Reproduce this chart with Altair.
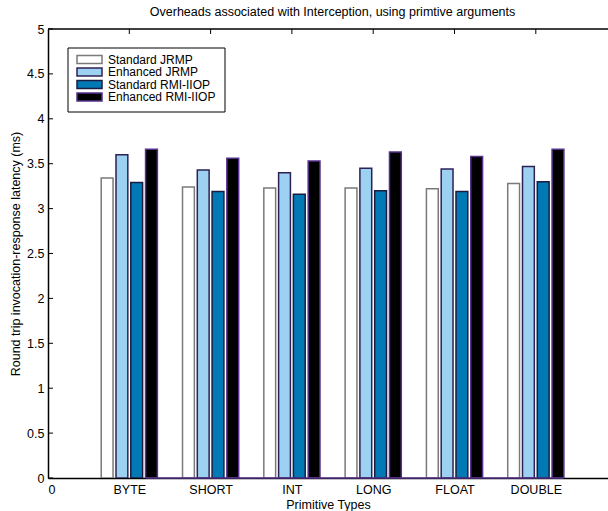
import altair as alt
import pandas as pd

# Round-trip latency (ms) per primitive argument type
categories = ["BYTE", "SHORT", "INT", "LONG", "FLOAT", "DOUBLE"]
series = ["Standard JRMP", "Enhanced JRMP", "Standard RMI-IIOP", "Enhanced RMI-IIOP"]
standard_jrmp = [3.34, 3.24, 3.23, 3.23, 3.22, 3.28]
enhanced_jrmp = [3.60, 3.43, 3.40, 3.45, 3.44, 3.47]
standard_iiop = [3.29, 3.19, 3.16, 3.20, 3.19, 3.30]
enhanced_iiop = [3.66, 3.56, 3.53, 3.63, 3.58, 3.66]
y_ticks = [0, 0.5, 1, 1.5, 2, 2.5, 3, 3.5, 4, 4.5, 5]

fills = ["#ffffff", "#9dd1f1", "#0079b5", "#000000"]
edges = ["#7a7a7a", "#2e2156", "#1c1c40", "#55308c"]

FONT = "Liberation Sans"
FS = 12.5
W, H = 560, 449
X_MAX = 6.888          # visible part of the 0..7 category axis
PX = W / X_MAX         # pixels per x unit

# grouped bar geometry (MATLAB-style grouping)
slot = 0.1818
bar_w = 0.8 * slot
offsets = [-1.5 * slot, -0.5 * slot, 0.5 * slot, 1.5 * slot]

values = [standard_jrmp, enhanced_jrmp, standard_iiop, enhanced_iiop]
rows = []
for s, name in enumerate(series):
    for c, cat in enumerate(categories):
        center = (c + 1) + offsets[s]
        rows.append({"series": name, "category": cat, "order": s,
                     "x0": center - bar_w / 2, "x1": center + bar_w / 2,
                     "value": values[s][c]})
df = pd.DataFrame(rows)

xs = alt.Scale(domain=[0, X_MAX], nice=False, zero=False)
ys = alt.Scale(domain=[0, 5], nice=False)

label_expr = ("datum.value == 0 ? '0' : " +
              "[" + ",".join("'%s'" % c for c in categories) + "][datum.value - 1]")

bars = alt.Chart(df).mark_bar(strokeWidth=1.5, clip=True).encode(
    x=alt.X("x0:Q", scale=xs,
            axis=alt.Axis(values=list(range(0, 7)), labelExpr=label_expr,
                          ticks=False, grid=False, domainColor="black",
                          domainWidth=1.5, labelFont=FONT, labelFontSize=FS,
                          labelColor="black", labelPadding=5,
                          title="Primitive Types", titleFont=FONT,
                          titleFontSize=FS, titleFontWeight="normal",
                          titleColor="black", titlePadding=3)),
    x2="x1:Q",
    y=alt.Y("value:Q", scale=ys,
            axis=alt.Axis(values=y_ticks, format="~g", ticks=False, grid=False,
                          domainColor="black", domainWidth=1.5,
                          labelFont=FONT, labelFontSize=FS, labelColor="black",
                          labelPadding=4,
                          title="Round trip invocation-response latency (ms)",
                          titleFont=FONT, titleFontSize=FS,
                          titleFontWeight="normal", titleColor="black",
                          titlePadding=4)),
    y2=alt.datum(0),
    fill=alt.Fill("series:N", scale=alt.Scale(domain=series, range=fills), legend=None),
    stroke=alt.Stroke("series:N", scale=alt.Scale(domain=series, range=edges), legend=None),
)

# baseline of the last series, spanning its first to last bar
last = df[df["order"] == 3]
base_df = pd.DataFrame({"x0": [last["x0"].min()], "x1": [last["x1"].max()]})
baseline = alt.Chart(base_df).mark_rule(color="#55308c", strokeWidth=1.5).encode(
    x=alt.X("x0:Q", scale=xs), x2="x1:Q", y=alt.datum(0)
)

# inward tick marks on the left and top edges
ytick_df = pd.DataFrame({"v": y_ticks})
yticks = alt.Chart(ytick_df).mark_rule(color="black", strokeWidth=1).encode(
    y=alt.Y("v:Q", scale=ys), x=alt.value(0), x2=alt.value(5)
)
xtick_df = pd.DataFrame({"v": list(range(1, 7))})
xticks = alt.Chart(xtick_df).mark_rule(color="black", strokeWidth=1).encode(
    x=alt.X("v:Q", scale=xs), y=alt.value(0), y2=alt.value(5)
)

one = pd.DataFrame({"k": [0]})  # single row for decorations
top_line = alt.Chart(one).mark_rule(color="black", strokeWidth=1.5).encode(
    x=alt.value(0), x2=alt.value(W), y=alt.value(0)
)

title = alt.Chart(one).mark_text(
    font=FONT, fontSize=FS, color="black", align="center", baseline="middle"
).encode(x=alt.value(3.5 * PX), y=alt.value(-17), text=alt.value(
    "Overheads associated with Interception, using primtive arguments"))

# legend box
legend_layers = [
    alt.Chart(one).mark_rect(fill="white", stroke="black", strokeWidth=1).encode(
        x=alt.value(20), x2=alt.value(177), y=alt.value(19), y2=alt.value(83))
]
row_y = [30.5, 43, 55.5, 68]
for i, name in enumerate(series):
    legend_layers.append(
        alt.Chart(one).mark_rect(fill=fills[i], stroke=edges[i], strokeWidth=1.5).encode(
            x=alt.value(29), x2=alt.value(54),
            y=alt.value(row_y[i] - 4), y2=alt.value(row_y[i] + 4)))
    legend_layers.append(
        alt.Chart(one).mark_text(font=FONT, fontSize=12, color="black",
                                 align="left", baseline="middle").encode(
            x=alt.value(60), y=alt.value(row_y[i]), text=alt.value(name)))

chart = alt.layer(bars, baseline, yticks, xticks, top_line, title, *legend_layers).properties(
    width=W, height=H,
    autosize=alt.AutoSizeParams(type="none"),
    padding={"left": 48, "top": 29, "right": 0, "bottom": 33},
    background="white",
).configure_view(stroke=None)

chart.save("out.html", embed_options={"renderer": "svg", "actions": False})
